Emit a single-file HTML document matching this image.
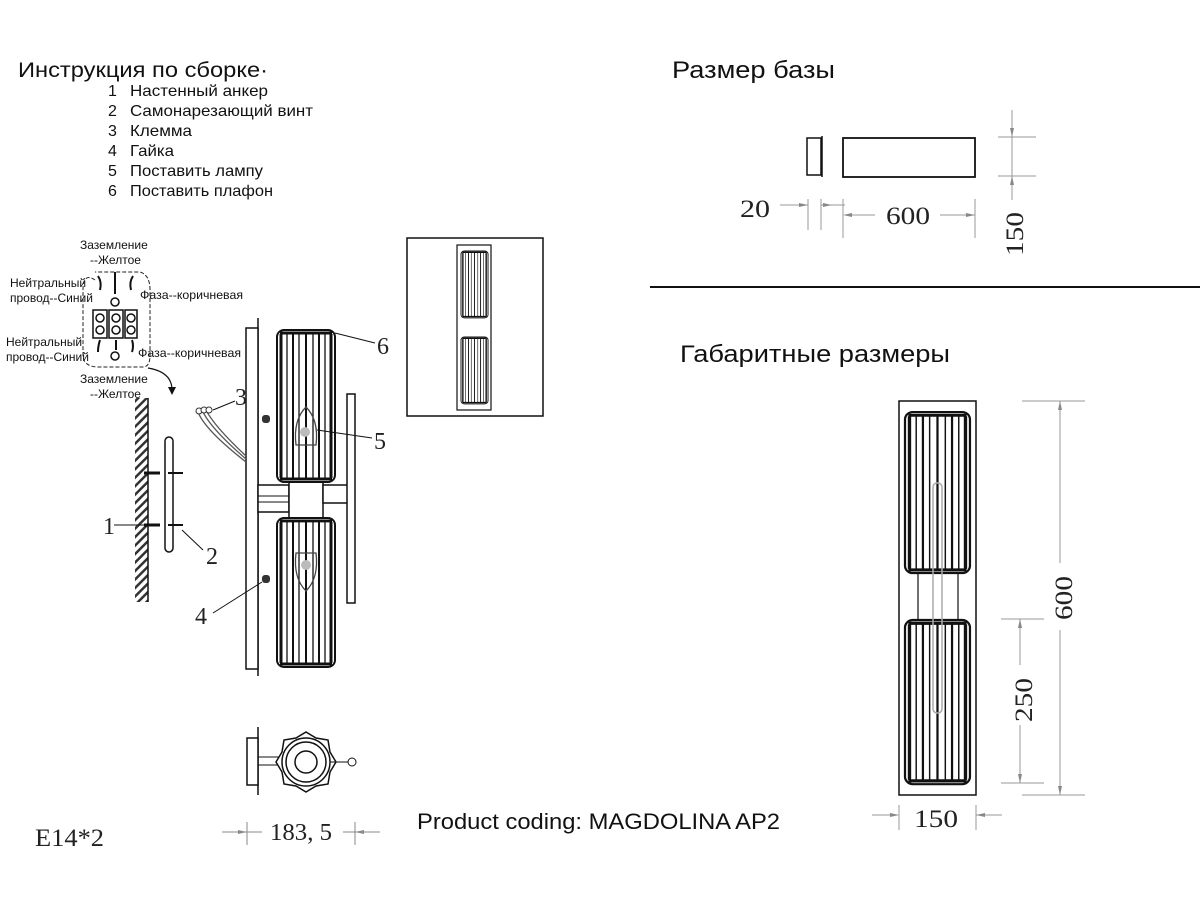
<!DOCTYPE html>
<html><head><meta charset="utf-8"><style>
html,body{margin:0;padding:0;background:#fff;width:1200px;height:900px;overflow:hidden}
svg{display:block}
.s{font-family:"Liberation Sans","DejaVu Sans",sans-serif;fill:#111}
.r{font-family:"Liberation Serif",serif;fill:#222}
</style></head><body>
<svg width="1200" height="900" viewBox="0 0 1200 900" xmlns="http://www.w3.org/2000/svg">
<defs>
<g id="shade">
<rect x="0" y="0" width="58" height="152" rx="7" fill="#fff" stroke="#111" stroke-width="2"/>
<g stroke="#111" stroke-width="1.3">
<line x1="4" y1="4" x2="4" y2="148" stroke-width="3"/>
<line x1="10" y1="3" x2="10" y2="149"/>
<line x1="16" y1="3" x2="16" y2="149" stroke-width="2"/>
<line x1="22" y1="3" x2="22" y2="149"/>
<line x1="29" y1="3" x2="29" y2="149" stroke-width="2"/>
<line x1="36" y1="3" x2="36" y2="149"/>
<line x1="42" y1="3" x2="42" y2="149" stroke-width="2"/>
<line x1="48" y1="3" x2="48" y2="149"/>
<line x1="54" y1="4" x2="54" y2="148" stroke-width="3"/>
<line x1="3" y1="3" x2="55" y2="3" stroke-width="3"/>
<line x1="3" y1="149" x2="55" y2="149" stroke-width="3"/>
</g>
</g>
<pattern id="hatch" width="6" height="6" patternUnits="userSpaceOnUse" patternTransform="rotate(45)"><rect width="6" height="6" fill="#fff"/><rect width="2.5" height="6" fill="#333"/></pattern>
</defs>

<text class="s" x="18" y="77" font-size="21" textLength="250" lengthAdjust="spacingAndGlyphs">Инструкция по сборке·</text>
<g class="s" font-size="16">
<text x="108" y="96">1</text><text x="130" y="96" textLength="138" lengthAdjust="spacingAndGlyphs">Настенный анкер</text>
<text x="108" y="116">2</text><text x="130" y="116" textLength="183" lengthAdjust="spacingAndGlyphs">Самонарезающий винт</text>
<text x="108" y="136">3</text><text x="130" y="136" textLength="62" lengthAdjust="spacingAndGlyphs">Клемма</text>
<text x="108" y="156">4</text><text x="130" y="156" textLength="44" lengthAdjust="spacingAndGlyphs">Гайка</text>
<text x="108" y="176">5</text><text x="130" y="176" textLength="133" lengthAdjust="spacingAndGlyphs">Поставить лампу</text>
<text x="108" y="196">6</text><text x="130" y="196" textLength="143" lengthAdjust="spacingAndGlyphs">Поставить плафон</text>
</g>

<g class="s" font-size="12">
<text x="80" y="249">Заземление</text>
<text x="90" y="264">--Желтое</text>
<text x="10" y="287">Нейтральный</text>
<text x="10" y="302">провод--Синий</text>
<text x="140" y="299" textLength="103" lengthAdjust="spacingAndGlyphs">Фаза--коричневая</text>
<text x="6" y="346">Нейтральный</text>
<text x="6" y="361">провод--Синий</text>
<text x="138" y="357" textLength="103" lengthAdjust="spacingAndGlyphs">Фаза--коричневая</text>
<text x="80" y="383">Заземление</text>
<text x="90" y="398">--Желтое</text>
</g>
<path d="M95,280 Q83,272 83,290 V355 Q83,366 97,367 H143 Q150,367 150,355 V290 Q150,275 140,272 H95" fill="none" stroke="#222" stroke-dasharray="4,2"/>
<g fill="#fff" stroke="#111" stroke-width="1.5">
<rect x="93" y="310" width="14" height="28"/><rect x="109" y="310" width="14" height="28"/><rect x="125" y="310" width="12" height="28"/>
<circle cx="100" cy="318" r="4"/><circle cx="100" cy="330" r="4"/><circle cx="116" cy="318" r="4"/><circle cx="116" cy="330" r="4"/><circle cx="131" cy="318" r="4"/><circle cx="131" cy="330" r="4"/>
<circle cx="115" cy="302" r="4"/><circle cx="115" cy="356" r="4"/>
</g>
<g stroke="#111" stroke-width="2" fill="none">
<line x1="115" y1="272" x2="115" y2="294"/>
<path d="M98,276 q4,6 2,14"/><path d="M133,276 q-4,6 -2,14"/>
<path d="M100,340 q-2,6 -2,12"/><path d="M132,340 q2,6 0,12"/><line x1="116" y1="340" x2="116" y2="350"/>
<path d="M148,368 Q172,372 172,390" stroke-width="1.2"/>
</g>
<path d="M172,395 l-4,-8 h8z" fill="#111"/>

<rect x="135" y="398" width="13" height="204" fill="url(#hatch)"/>
<line x1="148" y1="398" x2="148" y2="602" stroke="#111" stroke-width="1.5"/>
<rect x="165" y="437" width="8" height="115" rx="4" fill="#fff" stroke="#111" stroke-width="1.5"/>
<g stroke="#111" stroke-width="3">
<line x1="144" y1="473" x2="160" y2="473"/><line x1="144" y1="525" x2="160" y2="525"/>
<line x1="168" y1="473" x2="183" y2="473" stroke-width="2"/><line x1="168" y1="525" x2="183" y2="525" stroke-width="2"/>
</g>
<line x1="114" y1="525" x2="145" y2="525" stroke="#111"/>
<line x1="182" y1="530" x2="203" y2="550" stroke="#111"/>
<text class="r" x="103" y="534" font-size="24">1</text>
<text class="r" x="206" y="564" font-size="24">2</text>

<line x1="258" y1="318" x2="258" y2="676" stroke="#111" stroke-width="1.5"/>
<rect x="246" y="328" width="12" height="341" fill="#fff" stroke="#111" stroke-width="1.5"/>
<rect x="258" y="485" width="31" height="27" fill="#fff" stroke="#111" stroke-width="1.5"/>
<line x1="258" y1="496" x2="289" y2="496" stroke="#111"/><line x1="258" y1="502" x2="289" y2="502" stroke="#111"/>
<rect x="289" y="481" width="34" height="38" fill="#fff" stroke="#111" stroke-width="1.5"/>
<rect x="323" y="485" width="25" height="18" fill="#fff" stroke="#111" stroke-width="1.5"/>
<rect x="347" y="394" width="8" height="209" fill="#fff" stroke="#111" stroke-width="1.5"/>
<use href="#shade" transform="translate(277,330)"/>
<use href="#shade" transform="translate(277,518) scale(1,0.98)"/>
<g fill="none" stroke="#444" stroke-width="1.3">
<path d="M296,445 Q293,420 306,407 Q319,420 316,445 Z"/>
<path d="M296,553 Q293,578 306,591 Q319,578 316,553 Z"/>
</g>
<circle cx="305" cy="432" r="5" fill="#bbb"/><circle cx="306" cy="565" r="5" fill="#bbb"/>
<rect x="262" y="415" width="8" height="8" rx="3" fill="#333"/>
<rect x="262" y="575" width="8" height="8" rx="3" fill="#333"/>
<g stroke="#555" fill="none" stroke-width="1.3">
<path d="M198,412 Q205,430 246,462"/><path d="M202,410 Q210,428 246,459"/><path d="M206,410 Q214,426 246,456"/>
</g>
<circle cx="199" cy="411" r="3" fill="#fff" stroke="#333"/><circle cx="204" cy="410" r="3" fill="#fff" stroke="#333"/><circle cx="209" cy="410" r="3" fill="#fff" stroke="#333"/>
<g stroke="#111" stroke-width="1">
<line x1="213" y1="410" x2="235" y2="401"/>
<line x1="335" y1="333" x2="375" y2="343"/>
<line x1="317" y1="430" x2="372" y2="438"/>
<line x1="213" y1="613" x2="262" y2="582"/>
</g>
<text class="r" x="235" y="405" font-size="24">3</text>
<text class="r" x="377" y="354" font-size="24">6</text>
<text class="r" x="374" y="449" font-size="24">5</text>
<text class="r" x="195" y="624" font-size="24">4</text>

<line x1="258" y1="727" x2="258" y2="795" stroke="#111" stroke-width="1.5"/>
<rect x="247" y="738" width="11" height="47" fill="#fff" stroke="#111" stroke-width="1.5"/>
<line x1="258" y1="757" x2="282" y2="757" stroke="#111"/><line x1="258" y1="765" x2="282" y2="765" stroke="#111"/>
<polygon points="306,732 316,738 328,740 330,752 336,762 330,772 328,784 316,786 306,792 296,786 284,784 282,772 276,762 282,752 284,740 296,738" fill="#fff" stroke="#111" stroke-width="1.5"/>
<circle cx="306" cy="762" r="24" fill="#fff" stroke="#111" stroke-width="1.5"/>
<circle cx="306" cy="762" r="20" fill="none" stroke="#111" stroke-width="1.5"/>
<circle cx="306" cy="762" r="11" fill="none" stroke="#111" stroke-width="1.5"/>
<line x1="330" y1="762" x2="349" y2="762" stroke="#111"/>
<circle cx="352" cy="762" r="4" fill="#fff" stroke="#111"/>
<g stroke="#888"><line x1="222" y1="832" x2="262" y2="832"/><line x1="247" y1="822" x2="247" y2="845"/>
<line x1="343" y1="832" x2="380" y2="832"/><line x1="355" y1="822" x2="355" y2="845"/></g>
<path d="M247,832 l-9,-2 v4z" fill="#888"/><path d="M355,832 l9,-2 v4z" fill="#888"/>
<text class="r" x="270" y="840" font-size="24" textLength="62" lengthAdjust="spacingAndGlyphs">183, 5</text>
<text class="r" x="35" y="846" font-size="25" textLength="69" lengthAdjust="spacingAndGlyphs">E14*2</text>
<text class="s" x="417" y="829" font-size="22" textLength="363" lengthAdjust="spacingAndGlyphs">Product coding: MAGDOLINA AP2</text>

<rect x="407" y="238" width="136" height="178" fill="#fff" stroke="#111" stroke-width="1.5"/>
<rect x="457" y="245" width="34" height="165" fill="#fff" stroke="#111" stroke-width="1.2"/>
<use href="#shade" transform="translate(461,251) scale(0.466,0.44)"/>
<use href="#shade" transform="translate(461,337) scale(0.466,0.44)"/>

<text class="s" x="672" y="78" font-size="24" textLength="163" lengthAdjust="spacingAndGlyphs">Размер базы</text>
<rect x="807" y="138" width="14" height="37" fill="#fff" stroke="#111" stroke-width="1.5"/>
<line x1="822" y1="136" x2="822" y2="177" stroke="#111" stroke-width="1.5"/>
<rect x="843" y="138" width="132" height="39" fill="#fff" stroke="#111" stroke-width="1.8"/>
<g stroke="#999">
<line x1="808" y1="199" x2="808" y2="230"/><line x1="821" y1="199" x2="821" y2="230"/><line x1="843" y1="199" x2="843" y2="238"/><line x1="975" y1="199" x2="975" y2="238"/>
<line x1="780" y1="205" x2="808" y2="205"/><line x1="821" y1="205" x2="845" y2="205"/>
<line x1="845" y1="215" x2="875" y2="215"/><line x1="940" y1="215" x2="975" y2="215"/>
<line x1="998" y1="137" x2="1036" y2="137"/><line x1="998" y1="176" x2="1036" y2="176"/>
<line x1="1012" y1="110" x2="1012" y2="200"/>
</g>
<path d="M808,205 l-9,-2 v4z M832,205 l-9,-2 v4z M843,215 l9,-2 v4z M975,215 l-9,-2 v4z M1012,137 l-2,-9 h4z M1012,176 l-2,9 h4z" fill="#888"/>
<text class="r" x="740" y="217" font-size="25" textLength="30" lengthAdjust="spacingAndGlyphs">20</text>
<text class="r" x="886" y="224" font-size="25" textLength="44" lengthAdjust="spacingAndGlyphs">600</text>
<text class="r" font-size="25" transform="translate(1023,256) rotate(-90)" textLength="44" lengthAdjust="spacingAndGlyphs">150</text>

<line x1="650" y1="287" x2="1200" y2="287" stroke="#111" stroke-width="2"/>

<text class="s" x="680" y="362" font-size="24" textLength="270" lengthAdjust="spacingAndGlyphs">Габаритные размеры</text>
<rect x="899" y="401" width="77" height="394" fill="#fff" stroke="#111" stroke-width="1.5"/>
<rect x="918" y="573" width="40" height="47" fill="#fff" stroke="#111" stroke-width="1.2"/>
<use href="#shade" transform="translate(905,412) scale(1.12,1.06)"/>
<use href="#shade" transform="translate(905,620) scale(1.12,1.08)"/>
<rect x="933" y="483" width="9" height="230" rx="4" fill="none" stroke="#aaa" stroke-width="1.5"/>
<g stroke="#999">
<line x1="1022" y1="401" x2="1085" y2="401"/><line x1="1022" y1="795" x2="1085" y2="795"/>
<line x1="1060" y1="401" x2="1060" y2="563"/><line x1="1060" y1="630" x2="1060" y2="795"/>
<line x1="1001" y1="619" x2="1044" y2="619"/><line x1="1001" y1="783" x2="1044" y2="783"/>
<line x1="1020" y1="619" x2="1020" y2="665"/><line x1="1020" y1="725" x2="1020" y2="783"/>
<line x1="872" y1="815" x2="898" y2="815"/><line x1="976" y1="815" x2="1002" y2="815"/>
<line x1="899" y1="805" x2="899" y2="830"/><line x1="976" y1="805" x2="976" y2="830"/>
</g>
<path d="M1060,401 l-2,9 h4z M1060,795 l-2,-9 h4z M1020,619 l-2,9 h4z M1020,783 l-2,-9 h4z M899,815 l-9,-2 v4z M976,815 l9,-2 v4z" fill="#888"/>
<text class="r" font-size="25" transform="translate(1072,620) rotate(-90)" textLength="44" lengthAdjust="spacingAndGlyphs">600</text>
<text class="r" font-size="25" transform="translate(1032,722) rotate(-90)" textLength="44" lengthAdjust="spacingAndGlyphs">250</text>
<text class="r" x="914" y="827" font-size="25" textLength="44" lengthAdjust="spacingAndGlyphs">150</text>
</svg>
</body></html>
